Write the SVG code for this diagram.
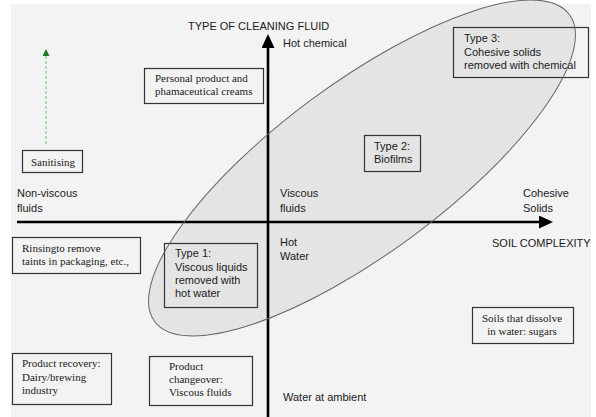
<svg xmlns="http://www.w3.org/2000/svg" width="596" height="417" viewBox="0 0 596 417">
<style>
.sans{font-family:"Liberation Sans",Arial,sans-serif;font-size:11px;fill:#1a1a1a}
.serif{font-family:"Liberation Serif","Times New Roman",serif;font-size:11px;fill:#1a1a1a}
.box{fill:none;stroke:#333;stroke-width:1.2}
.axis{stroke:#000;stroke-width:2.6;fill:none}
</style>
<defs>
<marker id="ah" markerUnits="userSpaceOnUse" markerWidth="14" markerHeight="13" refX="1" refY="6.5" orient="auto">
<path d="M0,0 L14,6.5 L0,13 Z" fill="#000"/>
</marker>
<marker id="gh" markerUnits="userSpaceOnUse" markerWidth="7" markerHeight="7" refX="1" refY="3.5" orient="auto">
<path d="M0,0 L7,3.5 L0,7 Z" fill="#1f7a1f"/>
</marker>
</defs>
<rect x="0" y="0" width="596" height="417" fill="#ffffff"/>
<rect x="11" y="4" width="580" height="413" fill="#f3f3f3"/>

<g id="ellipse-fill">
<ellipse cx="362" cy="168" rx="258" ry="85" transform="rotate(-36.5 362 168)" fill="#e4e4e4" stroke="none"/>
</g>

<g id="connectors">
<line class="axis" x1="268" y1="417" x2="268" y2="47" marker-end="url(#ah)"/>
<line class="axis" x1="17" y1="222" x2="540" y2="222" marker-end="url(#ah)"/>
<line x1="46" y1="144" x2="46" y2="55" stroke="#9fd49f" stroke-width="1.5" stroke-dasharray="3,2" marker-end="url(#gh)"/>
</g>

<g id="axis-labels" class="sans">
<text x="188" y="30">TYPE OF CLEANING FLUID</text>
<text x="283" y="47">Hot chemical</text>
<text x="17" y="197">Non-viscous</text>
<text x="17" y="212">fluids</text>
<text x="280" y="197">Viscous</text>
<text x="280" y="212">fluids</text>
<text x="523" y="197">Cohesive</text>
<text x="523" y="212">Solids</text>
<text x="492" y="247">SOIL COMPLEXITY</text>
<text x="280" y="246">Hot</text>
<text x="280" y="260">Water</text>
<text x="283" y="401">Water at ambient</text>
</g>

<g id="personal">
<rect class="box" x="144.5" y="68.5" width="119" height="35"/>
<text class="serif" x="155" y="82">Personal product and</text>
<text class="serif" x="155" y="95">phamaceutical creams</text>
</g>

<g id="sanitising">
<rect class="box" x="22.5" y="150.5" width="60" height="22"/>
<text class="serif" x="31" y="166">Sanitising</text>
</g>

<g id="type2">
<rect class="box" x="364.5" y="135.5" width="56" height="36"/>
<text class="sans" x="374" y="150">Type 2:</text>
<text class="sans" x="374" y="163">Biofilms</text>
</g>

<g id="type3">
<rect class="box" x="453.5" y="27.5" width="135" height="50"/>
<text class="sans" x="464" y="42">Type 3:</text>
<text class="sans" x="464" y="55.5">Cohesive solids</text>
<text class="sans" x="464" y="69">removed with chemical</text>
</g>

<g id="rinsing">
<rect class="box" x="12.5" y="237.5" width="128" height="36"/>
<text class="serif" x="22" y="252">Rinsingto remove</text>
<text class="serif" x="22" y="265">taints in packaging, etc.,</text>
</g>

<g id="type1">
<rect class="box" x="164.5" y="243.5" width="93" height="64"/>
<text class="sans" x="175" y="257">Type 1:</text>
<text class="sans" x="175" y="271">Viscous liquids</text>
<text class="sans" x="175" y="284">removed with</text>
<text class="sans" x="175" y="297">hot water</text>
</g>

<g id="recovery">
<rect class="box" x="12.5" y="353.5" width="99" height="51"/>
<text class="serif" x="22" y="367">Product recovery:</text>
<text class="serif" x="22" y="381">Dairy/brewing</text>
<text class="serif" x="22" y="394">industry</text>
</g>

<g id="changeover">
<rect class="box" x="149.5" y="356.5" width="103" height="49"/>
<text class="serif" x="169" y="370">Product</text>
<text class="serif" x="169" y="383">changeover:</text>
<text class="serif" x="169" y="396">Viscous fluids</text>
</g>

<g id="soils">
<rect class="box" x="472.5" y="307.5" width="101" height="36"/>
<text class="serif" x="522" y="322" text-anchor="middle">Soils that dissolve</text>
<text class="serif" x="522" y="335" text-anchor="middle">in water: sugars</text>
</g>

<g id="ellipse-outline">
<ellipse cx="362" cy="168" rx="258" ry="85" transform="rotate(-36.5 362 168)" fill="none" stroke="#666" stroke-width="1"/>
</g>
</svg>
